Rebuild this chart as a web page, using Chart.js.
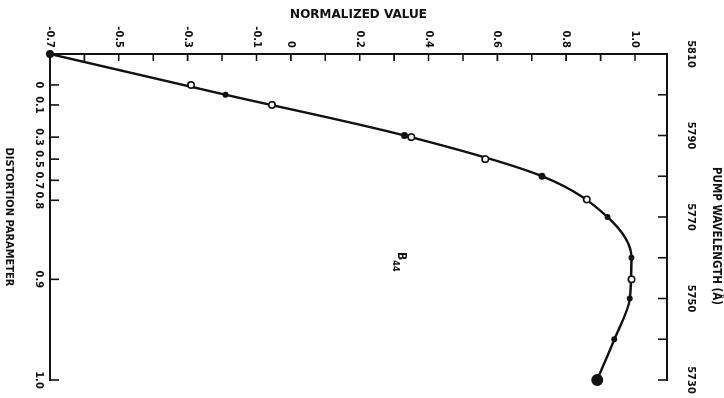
<!DOCTYPE html>
<html>
<head>
<meta charset="utf-8">
<script src="https://cdn.jsdelivr.net/npm/chart.js@4"></script>
<style>
  html, body { margin: 0; padding: 0; background: #fff; overflow: hidden; }
  /* the plot is laid out upright, then turned a quarter turn clockwise */
  #wrap {
    position: absolute; left: 0; top: 0;
    width: 398px; height: 724px;
    transform-origin: 0 0;
    transform: translateX(724px) rotate(90deg);
  }
</style>
</head>
<body>
<div id="wrap"><canvas id="chart" width="398" height="724"></canvas></div>
<script>
// B44 normalized value on the pump wavelength grid (Å)
const wavelengths = [5810, 5800, 5790, 5780, 5770, 5760, 5750, 5740, 5730];
const normValues = [-0.70, -0.19, 0.33, 0.73, 0.92, 0.99, 0.985, 0.94, 0.89];
const pointSizes = [4, 3, 3.5, 3.5, 3, 3, 3, 3, 6];

// open markers at the distortion parameter points
const openWavelengths = [5802.4, 5797.5, 5789.6, 5784.2, 5774.3, 5754.7];
const openValues = [-0.29, -0.055, 0.35, 0.565, 0.86, 0.99];

// distortion parameter scale (bottom), placed by wavelength
const distortionLabels = ["0", "0.1", "0.3", "0.5", "0.7", "0.8", "0.9", "1.0"];
const distortionWavelengths = [5802.4, 5797.5, 5789.6, 5784.2, 5779.0, 5774.1, 5754.7, 5730];

// axis ticks
const wavelengthTicks = [5810, 5800, 5790, 5780, 5770, 5760, 5750, 5740, 5730];
const wavelengthLabelled = [5810, 5790, 5770, 5750, 5730];
const normTicks = [-0.7, -0.6, -0.5, -0.4, -0.3, -0.2, -0.1, 0, 0.1, 0.2, 0.3, 0.4, 0.5, 0.6, 0.7, 0.8, 0.9, 1.0];
const normLabelled = [-0.7, -0.5, -0.3, -0.1, 0, 0.2, 0.4, 0.6, 0.8, 1.0];

const curveLabel = { text: "B", sub: "44", wavelength: 5761.4, value: 0.31 };

const INK = "#111";
const NARROW = "'Liberation Sans Narrow', 'Arial Narrow', 'DejaVu Sans Condensed', sans-serif";
const tickFont = { family: NARROW, size: 11, weight: "bold" };

// keep the label overhang from shrinking the plot
const fitX = h => s => {
  s.height = h;
  s.paddingLeft = 0;
  s.paddingRight = 0;
};

// tick marks point into the plot on every axis, plus the in-plot texts
const inwardTicks = {
  id: "inwardTicks",
  beforeDatasetsDraw(chart) {
    const { ctx, chartArea: a, scales } = chart;
    ctx.save();
    ctx.strokeStyle = INK;
    ctx.lineWidth = 1.6;
    ctx.beginPath();
    scales.y.ticks.forEach(t => {
      const p = scales.y.getPixelForValue(t.value);
      ctx.moveTo(a.left, p);
      ctx.lineTo(a.left + 7, p);
    });
    scales.x.ticks.forEach(t => {
      const p = scales.x.getPixelForValue(t.value);
      ctx.moveTo(p, a.top);
      ctx.lineTo(p, a.top + 9);
    });
    scales.x2.ticks.forEach(t => {
      const p = scales.x2.getPixelForValue(t.value);
      ctx.moveTo(p, a.bottom);
      ctx.lineTo(p, a.bottom - 9);
    });
    ctx.stroke();
    ctx.restore();
  },
  afterDraw(chart) {
    const { ctx, chartArea: a, scales } = chart;
    ctx.save();
    ctx.fillStyle = INK;
    // top axis title sits a little toward the long-wavelength end
    ctx.font = "bold 11.5px " + NARROW;
    ctx.textAlign = "center";
    ctx.textBaseline = "middle";
    ctx.fillText("PUMP WAVELENGTH (Å)", (a.left + a.right) / 2 + 19, 8);

    const bx = scales.x.getPixelForValue(curveLabel.wavelength);
    const by = scales.y.getPixelForValue(curveLabel.value);
    ctx.textAlign = "left";
    ctx.textBaseline = "alphabetic";
    ctx.font = "bold 12px " + NARROW;
    ctx.fillText(curveLabel.text, bx, by);
    const w = ctx.measureText(curveLabel.text).width;
    ctx.font = "bold 9px " + NARROW;
    ctx.fillText(curveLabel.sub, bx + w, by + 5);
    ctx.restore();
  }
};

const ctxChart = document.getElementById("chart");
new Chart(ctxChart, {
  type: "line",
  data: {
    datasets: [
      {
        label: "distortion points",
        data: openWavelengths.map((x, i) => ({ x, y: openValues[i] })),
        xAxisID: "x",
        yAxisID: "y",
        showLine: false,
        pointRadius: 3.2,
        pointBackgroundColor: "#fff",
        pointBorderColor: INK,
        pointBorderWidth: 1.6,
        clip: false,
        order: 0
      },
      {
        label: "B44",
        data: wavelengths.map((x, i) => ({ x, y: normValues[i] })),
        xAxisID: "x",
        yAxisID: "y",
        borderColor: INK,
        borderWidth: 2.4,
        cubicInterpolationMode: "monotone",
        pointRadius: pointSizes,
        pointBackgroundColor: INK,
        pointBorderWidth: 0,
        clip: false,
        order: 1
      }
    ]
  },
  options: {
    responsive: false,
    animation: false,
    devicePixelRatio: 1,
    layout: { padding: { left: 0, right: 18, top: 0, bottom: 0 } },
    plugins: {
      legend: { display: false },
      tooltip: { enabled: false }
    },
    scales: {
      x: {
        type: "linear",
        position: "top",
        reverse: true,
        min: 5730,
        max: 5810,
        afterFit: fitX(57),
        afterBuildTicks: s => { s.ticks = wavelengthTicks.map(v => ({ value: v })); },
        grid: { display: false, drawTicks: false },
        border: { display: true, color: INK, width: 2 },
        ticks: {
          autoSkip: false, maxRotation: 0, minRotation: 0,
          padding: 17, color: INK, font: tickFont,
          callback: v => (wavelengthLabelled.includes(v) ? String(v) : "")
        },
        title: { display: false }
      },
      x2: {
        type: "linear",
        axis: "x",
        position: "bottom",
        reverse: true,
        min: 5730,
        max: 5810,
        afterFit: fitX(50),
        afterBuildTicks: s => { s.ticks = distortionWavelengths.map(v => ({ value: v })); },
        grid: { display: false, drawTicks: false },
        border: { display: true, color: INK, width: 2 },
        ticks: {
          autoSkip: false, maxRotation: 0, minRotation: 0,
          padding: 5, color: INK, font: tickFont,
          callback: (v, i) => distortionLabels[i]
        },
        title: {
          display: true,
          text: "DISTORTION PARAMETER",
          color: INK,
          font: { family: NARROW, size: 11, weight: "bold" },
          padding: { top: 0, bottom: 2 }
        }
      },
      y: {
        type: "linear",
        position: "left",
        min: -0.7,
        max: 1.093,
        afterFit: s => {
          s.width = 54;
          s.paddingTop = 0;
          s.paddingBottom = 0;
        },
        afterBuildTicks: s => { s.ticks = normTicks.map(v => ({ value: v })); },
        grid: { display: false, drawTicks: false },
        border: { display: true, color: INK, width: 2 },
        ticks: {
          autoSkip: false,
          padding: 6, color: INK, font: tickFont,
          callback: v => {
            if (!normLabelled.some(l => Math.abs(l - v) < 1e-6)) return "";
            return Math.abs(v) < 1e-6 ? "0" : v.toFixed(1);
          }
        },
        title: {
          display: true,
          text: "NORMALIZED VALUE",
          color: INK,
          font: { family: "'DejaVu Sans', sans-serif", size: 12, weight: "bold" },
          padding: { top: 8, bottom: 0 }
        }
      }
    }
  },
  plugins: [inwardTicks]
});
</script>
</body>
</html>
